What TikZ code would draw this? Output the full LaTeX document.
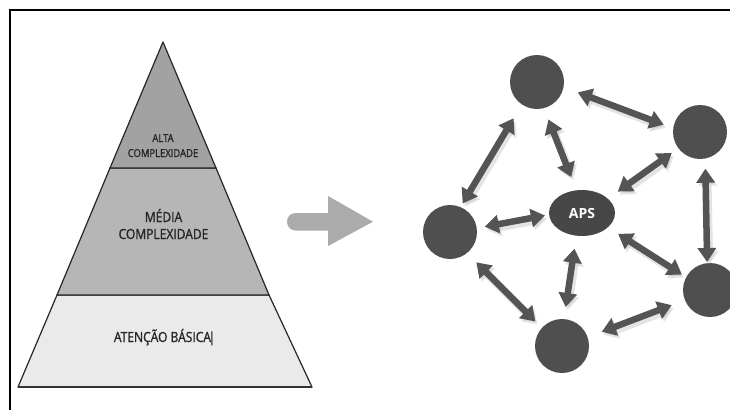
\documentclass[tikz,border=0pt]{standalone}
\usepackage{fontspec}
\setmainfont{Open Sans}
\newfontfamily\condfont[FakeStretch=0.86,FakeBold=1.2]{Open Sans}
\usetikzlibrary{arrows.meta,shapes.geometric}
\definecolor{nodegray}{HTML}{4F4F4F}
\definecolor{apsgray}{HTML}{474747}
\definecolor{arrowgray}{HTML}{545454}
\definecolor{bigarrow}{HTML}{ABABAB}
\definecolor{altafill}{HTML}{A2A2A2}
\definecolor{mediafill}{HTML}{B6B6B6}
\definecolor{basefill}{HTML}{EAEAEA}
\definecolor{txtgray}{HTML}{262626}
\newcommand\drawlinks[1]{%
  \draw[link,#1,shorten <=15pt,shorten >=10pt] (t.-11) -- (rt.172);
  \draw[link,#1,shorten <=16pt,shorten >=4pt] (t.236) -- (l.67);
  \draw[link,#1,shorten <=12pt,shorten >=14pt] (t.-75) -- (aps.104);
  \draw[link,#1,shorten <=8pt,shorten >=12pt] (rt.217) -- (aps.29);
  \draw[link,#1,shorten <=10pt,shorten >=1pt] (rt.-79) -- (rb.96);
  \draw[link,#1,shorten <=8pt,shorten >=4pt] (l.8) -- (aps.183);
  \draw[link,#1,shorten <=12pt,shorten >=5pt] (aps.-29) -- (rb.152);
  \draw[link,#1,shorten <=13pt,shorten >=12pt] (aps.-104) -- (b.86);
  \draw[link,#1,shorten <=13pt,shorten >=9pt] (l.-51) -- (b.138);
  \draw[link,#1,shorten <=15pt,shorten >=14pt] (b.19) -- (rb.202);
}
\begin{document}
\begin{tikzpicture}[x=1pt,y=-1pt,
  hub/.style={circle, fill=nodegray, minimum size=54pt, inner sep=0pt},
  link/.style={line width=6.5pt, draw=arrowgray,
    {Triangle[length=14pt,width=18pt]}-{Triangle[length=14pt,width=18pt]}},
  shade/.style={draw=gray!60, opacity=0.35, line width=8pt},
  tier/.style={draw=black!85, line width=1.2pt, line join=round},
  txt/.style={text=txtgray, inner sep=0pt, anchor=base},
  big/.style={font=\condfont\fontsize{14}{16}\selectfont},
  small/.style={font=\condfont\fontsize{11}{13}\selectfont}]
\useasboundingbox (0,0) rectangle (730,410);
\fill[white] (0,0) rectangle (730,410);
% frame
\draw[line width=2.5pt] (9,10) -- (730,10);
\draw[line width=2pt] (10,9) -- (10,410);
% pyramid
\coordinate (apex) at (163,42);
\coordinate (bl) at (18,387);
\coordinate (br) at (312,387);
\coordinate (a1) at (110,168);
\coordinate (a2) at (216,168);
\coordinate (m1) at (57,295);
\coordinate (m2) at (269,295);
\filldraw[tier, fill=basefill] (m1) -- (m2) -- (br) -- (bl) -- cycle;
\filldraw[tier, fill=mediafill] (a1) -- (a2) -- (m2) -- (m1) -- cycle;
\filldraw[tier, fill=altafill] (apex) -- (a2) -- (a1) -- cycle;
\draw[line width=2pt, black!80] (bl) -- (br);
\node[txt, small] (alta) at (163,142) {ALTA};
\node[txt, small] (altac) at (163,157) {COMPLEXIDADE};
\node[txt, big] (media) at (163.5,222) {MÉDIA};
\node[txt, big] (mediac) at (163.5,239) {COMPLEXIDADE};
\node[txt, big] (base) at (164.5,342) {ATENÇÃO BÁSICA\kern-2.5pt|};
% big arrow
\fill[bigarrow] (328,213) [rounded corners=8.5pt] -- (287,213) -- (287,230.5) [sharp corners] -- (328,230.5) -- (328,246) -- (373,221.7) -- (328,196) -- cycle;
% network
\node[hub] (t) at (537,82) {};
\node[hub] (rt) at (700,132) {};
\node[hub] (l) at (450,232) {};
\node[hub] (rb) at (710,290) {};
\node[hub] (b) at (562,346) {};
\node[ellipse, fill=apsgray, minimum width=66pt, minimum height=46pt, inner sep=0pt,
  text=white, font=\fontsize{14}{16}\selectfont\bfseries] (aps) at (582,213) {APS};
\begin{scope}[transform canvas={shift={(2,3)}}]
\drawlinks{shade}
\end{scope}
\drawlinks{}
\end{tikzpicture}
\end{document}
